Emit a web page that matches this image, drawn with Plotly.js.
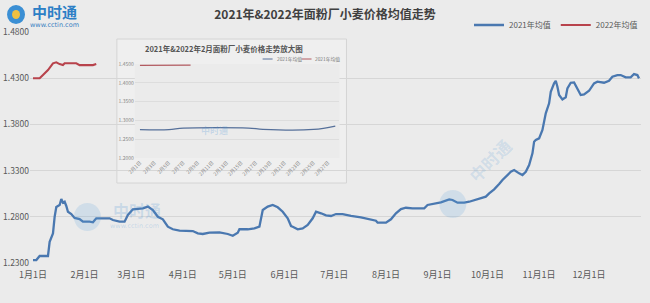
<!DOCTYPE html>
<html><head><meta charset="utf-8">
<script src="https://cdn.plot.ly/plotly-3.0.1.min.js"></script>
<style>body{margin:0;background:#ebebeb}</style>
</head><body>
<div id="chart" style="width:650px;height:303px"></div>
<script>
// ---- data (month-day; both years drawn on the same Jan–Dec axis) ----
const days2021 = ["01-01","01-03","01-05","01-10","01-11","01-13","01-14","01-15","01-17","01-18","01-19","01-20","01-21","01-22","01-24","01-26","01-29","01-31",
"02-04","02-06","02-08","02-16","02-18","02-22","02-25","02-27","03-02","03-08","03-11","03-14","03-17","03-20","03-23","03-26","03-30",
"04-07","04-10","04-13","04-17","04-23","04-28","05-01","05-04","05-05","05-10","05-14","05-17","05-19","05-22","05-25","05-28","05-31",
"06-03","06-05","06-06","06-09","06-12","06-15","06-18","06-20","06-23","06-26","06-29","07-02","07-06","07-11","07-17","07-20","07-23","07-26","07-27",
"08-01","08-04","08-07","08-10","08-13","08-17","08-24","08-26","08-30","09-03","09-08","09-10","09-13","09-17","09-20","09-23","09-27","09-30",
"10-02","10-05","10-08","10-10","10-15","10-17","10-20","10-22","10-24","10-26","10-28","10-29","10-30",
"11-01","11-03","11-04","11-05","11-07","11-08","11-10","11-11","11-12","11-13","11-15","11-17","11-18","11-20","11-22","11-24","11-26","11-28",
"12-01","12-04","12-06","12-10","12-13","12-15","12-18","12-20","12-23","12-26","12-28","12-30","12-31"];
const values2021 = [1.2332,1.2332,1.2376,1.2376,1.2530,1.2620,1.2800,1.2906,1.2928,1.2993,1.2953,1.2963,1.2917,1.2855,1.2830,1.2787,1.2776,1.2747,
1.2747,1.2740,1.2784,1.2784,1.2765,1.2747,1.2747,1.2820,1.2881,1.2892,1.2910,1.2873,1.2800,1.2773,1.2693,1.2665,1.2650,
1.2646,1.2621,1.2614,1.2628,1.2632,1.2614,1.2595,1.2628,1.2665,1.2665,1.2675,1.2693,1.2873,1.2910,1.2928,1.2903,1.2855,
1.2784,1.2700,1.2693,1.2665,1.2675,1.2711,1.2784,1.2855,1.2838,1.2815,1.2809,1.2830,1.2830,1.2809,1.2794,1.2784,1.2773,1.2758,1.2736,
1.2736,1.2773,1.2838,1.2884,1.2898,1.2892,1.2892,1.2928,1.2939,1.2957,1.2989,1.2982,1.2953,1.2953,1.2963,1.2982,1.3000,1.3018,
1.3054,1.3097,1.3155,1.3198,1.3288,1.3306,1.3270,1.3252,1.3288,1.3360,1.3487,1.3613,1.3631,
1.3649,1.3739,1.3847,1.3920,1.4028,1.4153,1.4244,1.4272,1.4208,1.4118,1.4071,1.4093,1.4190,1.4251,1.4255,1.4190,1.4118,1.4125,
1.4164,1.4244,1.4262,1.4251,1.4272,1.4316,1.4334,1.4334,1.4309,1.4309,1.4345,1.4334,1.4298];

const days2022 = ["01-01","01-05","01-07","01-10","01-13","01-15","01-17","01-19","01-20","01-27","01-29","02-02","02-06","02-08"];
const values2022 = [1.4299,1.4299,1.4334,1.4388,1.4461,1.4472,1.4453,1.4442,1.4461,1.4461,1.4442,1.4442,1.4442,1.4453];

// inset: February close-up
const febDays2021 = ["02-01","02-05","02-07","02-16","02-18","02-25","02-28"];
const febValues2021 = [1.2755,1.2755,1.2795,1.2797,1.2762,1.2760,1.2850];
const febDays2022 = ["02-01","02-04","02-08"];
const febValues2022 = [1.4465,1.4462,1.4472];

const monthTickDays = ["01-01","02-01","03-01","04-01","05-01","06-01","07-01","08-01","09-01","10-01","11-01","12-01"];
const monthTickLabels = ["1月1日","2月1日","3月1日","4月1日","5月1日","6月1日","7月1日","8月1日","9月1日","10月1日","11月1日","12月1日"];
const insetTickDays = ["02-01","02-03","02-05","02-07","02-09","02-11","02-13","02-15","02-17","02-19","02-21","02-23","02-25","02-27"];
const insetTickLabels = ["2月1日","2月3日","2月5日","2月7日","2月9日","2月11日","2月13日","2月15日","2月17日","2月19日","2月21日","2月23日","2月25日","2月27日"];

const seriesNames = ["2021年均值","2022年均值"];
const insetNames = ["2021年均值","2021年均值"];

// ---- build ----
const d = a => a.map(s => "2021-" + s);
const BLUE = "#4a78b0", RED = "#b8434c";
const FONT = "Noto Sans CJK SC, Noto Sans, sans-serif";

// layout helpers: pixel -> paper (main plot area 30..642 x, 32..263 y)
const L = 30, R = 642, T = 32, B = 263;
const px = p => (p - L) / (R - L);
const py = p => (B - p) / (B - T);

const traces = [
  {x: d(days2021), y: values2021, name: seriesNames[0], type: "scatter", mode: "lines",
   line: {color: BLUE, width: 2.3}, xaxis: "x", yaxis: "y"},
  {x: d(days2022), y: values2022, name: seriesNames[1], type: "scatter", mode: "lines",
   line: {color: RED, width: 2.1}, xaxis: "x", yaxis: "y"},
  {x: d(febDays2021), y: febValues2021, name: insetNames[0], type: "scatter", mode: "lines",
   line: {color: "#56709a", width: 1.3, shape: "spline"}, xaxis: "x2", yaxis: "y2", showlegend: false},
  {x: d(febDays2022), y: febValues2022, name: insetNames[1], type: "scatter", mode: "lines",
   line: {color: "#b25a60", width: 1.3}, xaxis: "x2", yaxis: "y2", showlegend: false}
];

// inset pixel geometry
const iL = 135, iR = 340, iT = 64, iB = 158;

const ann = (text, x, y, size, color, extra) => Object.assign({
  text: text, x: px(x), y: py(y), xref: "paper", yref: "paper", showarrow: false,
  xanchor: "center", yanchor: "middle", font: {size: size, color: color, family: FONT}}, extra || {});

const annotations = [
  ann("<b>中时通</b>", 55, 11, 15, "#2d7fc6"),
  ann("www.cctin.com", 55, 25, 6.5, "#3a80c2", {font: {size: 6.5, color: "#3a80c2", family: "DejaVu Sans"}}),
  // watermarks
  ann("<b>中时通</b>", 137, 210, 16, "rgba(80,150,215,0.22)"),
  ann("www.cctin.com", 135, 226, 6.5, "", {font: {size: 6.5, color: "rgba(80,150,215,0.25)", family: "DejaVu Sans"}}),
  ann("<b>中时通</b>", 490, 160, 17, "rgba(80,150,215,0.18)", {textangle: -45}),
  ann("<b>中时通</b>", 215, 130, 9, "rgba(80,150,215,0.25)"),
  // inset title & legend
  ann("<b>2021年&2022年2月面粉厂小麦价格走势放大图</b>", 224, 49, 7.5, "#555555"),
  ann(insetNames[0], 275, 59, 4.8, "#777777", {xanchor: "left"}),
  ann(insetNames[1], 313, 59, 4.8, "#777777", {xanchor: "left"})
];

const shapes = [
  // logo icon
  {type: "circle", xref: "paper", yref: "paper", x0: px(7), x1: px(25), y0: py(24), y1: py(5),
   fillcolor: "#3b8fd4", line: {width: 0}},
  {type: "circle", xref: "paper", yref: "paper", x0: px(12), x1: px(20), y0: py(19), y1: py(10),
   fillcolor: "#f0c040", line: {width: 0}},
  // watermark icons
  {type: "circle", xref: "paper", yref: "paper", x0: px(74), x1: px(101), y0: py(231), y1: py(203),
   fillcolor: "rgba(90,160,220,0.18)", line: {width: 0}, layer: "above"},
  {type: "circle", xref: "paper", yref: "paper", x0: px(440), x1: px(467), y0: py(218), y1: py(190),
   fillcolor: "rgba(90,160,220,0.18)", line: {width: 0}, layer: "above"},
  // inset panel (drawn in inset subplot layer, covers main gridlines)
  {type: "rect", xref: "x2 domain", yref: "y2 domain",
   x0: (117 - iL) / (iR - iL), x1: (347 - iL) / (iR - iL), y0: (iB - 183) / (iB - iT), y1: (iB - 39) / (iB - iT),
   fillcolor: "#efefef", line: {color: "#d4d4d4", width: 1}, layer: "below"},
  // inset legend lines
  {type: "line", xref: "paper", yref: "paper", x0: px(263), x1: px(273), y0: py(59), y1: py(59),
   line: {color: "#56709a", width: 1}, layer: "above"},
  {type: "line", xref: "paper", yref: "paper", x0: px(302), x1: px(312), y0: py(59), y1: py(59),
   line: {color: "#b25a60", width: 1}, layer: "above"}
];

const layout = {
  width: 650, height: 303,
  margin: {l: L, r: 650 - R, t: T, b: 303 - B, pad: 0},
  paper_bgcolor: "#ebebeb", plot_bgcolor: "#ebebeb",
  font: {family: FONT, color: "#595959"},
  title: {text: "<b>2021年&2022年面粉厂小麦价格均值走势</b>", x: 0.5, xref: "container", y: 1 - 15 / 303, yref: "container",
          yanchor: "middle", font: {size: 12, color: "#404040", family: FONT}},
  showlegend: true,
  legend: {orientation: "h", x: px(556), xanchor: "center", y: py(25), yanchor: "middle",
           font: {size: 8, color: "#595959", family: FONT}, bgcolor: "rgba(0,0,0,0)", traceorder: "normal"},
  xaxis: {type: "date", range: ["2020-12-30 04:48", "2022-01-01 04:48"], tickvals: d(monthTickDays), ticktext: monthTickLabels,
          showgrid: false, zeroline: false, showline: false, ticks: "", ticklabelstandoff: 5,
          tickfont: {size: 9, color: "#595959"}},
  yaxis: {range: [1.23, 1.48], dtick: 0.05, tick0: 1.23, tickformat: ".4f", showgrid: true, gridcolor: "#d6d6d6", gridwidth: 1,
          zeroline: false, showline: false, ticks: "", tickfont: {size: 8.5, color: "#595959"}},
  xaxis2: {type: "date", domain: [px(iL), px(iR)], anchor: "y2", range: ["2021-01-31 07:00", "2021-02-28 14:00"],
           tickvals: d(insetTickDays), ticktext: insetTickLabels, tickangle: -45, showgrid: false, zeroline: false,
           showline: false, ticks: "", tickfont: {size: 5, color: "#888888"}},
  yaxis2: {domain: [py(iB), py(iT)], anchor: "x2", range: [1.2, 1.45], dtick: 0.05, tick0: 1.2, tickformat: ".4f",
           showgrid: true, gridcolor: "#dddddd", zeroline: false, showline: false, ticks: "",
           tickfont: {size: 5, color: "#888888"}},
  annotations: annotations,
  shapes: shapes
};

Plotly.newPlot("chart", traces, layout, {displayModeBar: false, staticPlot: true});
</script>
</body></html>
